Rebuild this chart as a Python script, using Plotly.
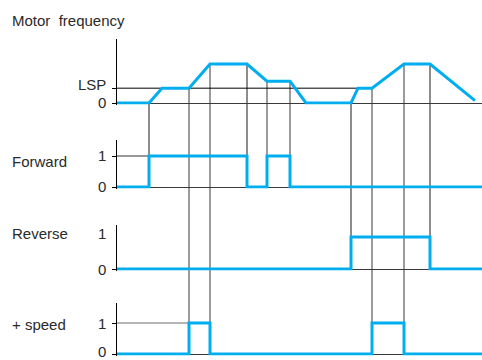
import numpy as np
import plotly.graph_objects as go

# ---------------- data ----------------
FMAX = 50      # top speed (Hz)
LSP = 19       # low speed (Hz)
FMID = 28      # intermediate speed (Hz)

T_MOTOR = [0, 32, 45, 72, 93, 130, 150, 173, 189, 234, 241, 255, 287, 313, 358]
F_MOTOR = [0, 0, LSP, LSP, FMAX, FMAX, FMID, FMID, 0, 0, LSP, LSP, FMAX, FMAX, 3]

T_FORWARD = [0, 32, 130, 150, 173, 365]
V_FORWARD = [0, 1, 0, 1, 0, 0]

T_REVERSE = [0, 234, 313, 365]
V_REVERSE = [0, 1, 0, 0]

T_SPEED = [0, 72, 93, 255, 287, 365]
V_SPEED = [0, 1, 0, 1, 0, 0]

PANEL_LABELS = ["Motor\u00a0\u00a0frequency", "Forward", "Reverse", "+ speed"]
MOTOR_TICKS = [0, LSP]
DARK_EDGES = [32, 130, 234, 313]
T_END = 365

# ---------------- layout helpers ----------------
W, H = 482, 360
BLUE = "#00AEEF"
FONT = "Liberation Sans, Arial, sans-serif"
TXT = "#2a2a2a"


def axis_cfg(top_px, zero_px, one_px, unit_val):
    s = (zero_px - one_px) / unit_val
    pb = zero_px + 1.5
    dom = [1 - pb / H, 1 - top_px / H]
    rng = [-(pb - zero_px) / s, (zero_px - top_px) / s]
    return dom, rng


def to_paper(cfg, v):
    dom, rng = cfg
    return dom[0] + (v - rng[0]) / (rng[1] - rng[0]) * (dom[1] - dom[0])


cfg_motor = axis_cfg(39, 103, 64, FMAX)
cfg_fwd = axis_cfg(140, 187, 156, 1)
cfg_rev = axis_cfg(225, 269, 237, 1)
cfg_spd = axis_cfg(303, 354, 323, 1)

fig = go.Figure()
line = dict(color=BLUE, width=3)
fig.add_trace(go.Scatter(x=T_MOTOR, y=F_MOTOR, mode="lines", line=line, yaxis="y"))
fig.add_trace(go.Scatter(x=T_FORWARD, y=V_FORWARD, mode="lines", line=dict(line, shape="hv"), yaxis="y2"))
fig.add_trace(go.Scatter(x=T_REVERSE, y=V_REVERSE, mode="lines", line=dict(line, shape="hv"), yaxis="y3"))
fig.add_trace(go.Scatter(x=T_SPEED, y=V_SPEED, mode="lines", line=dict(line, shape="hv"), yaxis="y4"))


def yax(cfg, tickvals):
    return dict(domain=cfg[0], range=cfg[1], anchor="x", showline=True, linecolor="black",
                linewidth=1, ticks="outside", ticklen=4, tickcolor="black", tickwidth=1,
                tickvals=tickvals, showticklabels=False, showgrid=False, zeroline=True,
                zerolinecolor="#3a3a3a", zerolinewidth=1, fixedrange=True)


shapes = []
# guide lines at reference levels, up to the relevant event
shapes.append(dict(type="line", xref="x", yref="y", x0=0, x1=T_MOTOR[11], y0=LSP, y1=LSP,
                   line=dict(color="black", width=1), layer="below"))
shapes.append(dict(type="line", xref="x", yref="y2", x0=0, x1=T_FORWARD[1], y0=1, y1=1,
                   line=dict(color="#333", width=1), layer="below"))
shapes.append(dict(type="line", xref="x", yref="y4", x0=0, x1=T_SPEED[1], y0=1, y1=1,
                   line=dict(color="#6a6a6a", width=1), layer="below"))

# connectors from motor curve to signal edges
for T, cfg in [(T_FORWARD, cfg_fwd), (T_REVERSE, cfg_rev), (T_SPEED, cfg_spd)]:
    for t in T[1:-1]:
        f = float(np.interp(t, T_MOTOR, F_MOTOR))
        dark = t in DARK_EDGES
        shapes.append(dict(type="line", xref="x", yref="paper", x0=t, x1=t,
                           y0=to_paper(cfg_motor, f), y1=to_paper(cfg, 1),
                           line=dict(color="#1a1a1a" if dark else "#7a7a7a",
                                     width=1 if dark else 1.5), layer="below"))

ann = []
label_y = [20, 162, 233, 324]
for txt, yc in zip(PANEL_LABELS, label_y):
    ann.append(dict(text=txt, xref="paper", yref="paper", x=10 / W, y=1 - yc / H,
                    xanchor="left", yanchor="middle", showarrow=False,
                    font=dict(family=FONT, size=15, color=TXT)))

tick_labels = [
    ("y", 0, "0", 1), ("y", LSP, "LSP", 4),
    ("y2", 0, "0", 0), ("y2", 1, "1", 0),
    ("y3", 0, "0", 0), ("y3", 1, "1", 4),
    ("y4", 0, "0", 3), ("y4", 1, "1", 0),
]
for yr, v, txt, ys in tick_labels:
    ann.append(dict(text=txt, xref="paper", yref=yr, x=108 / W, y=v, yshift=ys,
                    xanchor="right", yanchor="middle", showarrow=False,
                    font=dict(family=FONT, size=15, color=TXT)))

fig.update_layout(
    width=W, height=H, margin=dict(l=0, r=0, t=0, b=0),
    paper_bgcolor="white", plot_bgcolor="white", showlegend=False,
    xaxis=dict(domain=[117 / W, 1], range=[0, T_END], visible=False, anchor="y4", fixedrange=True),
    yaxis=yax(cfg_motor, MOTOR_TICKS),
    yaxis2=yax(cfg_fwd, [0, 1]),
    yaxis3=yax(cfg_rev, [0]),
    yaxis4=yax(cfg_spd, [0, 1]),
    shapes=shapes, annotations=ann,
)

fig.write_html("out.html", config=dict(displayModeBar=False),
               post_script="document.body.style.margin='0';document.body.style.overflow='hidden';")
